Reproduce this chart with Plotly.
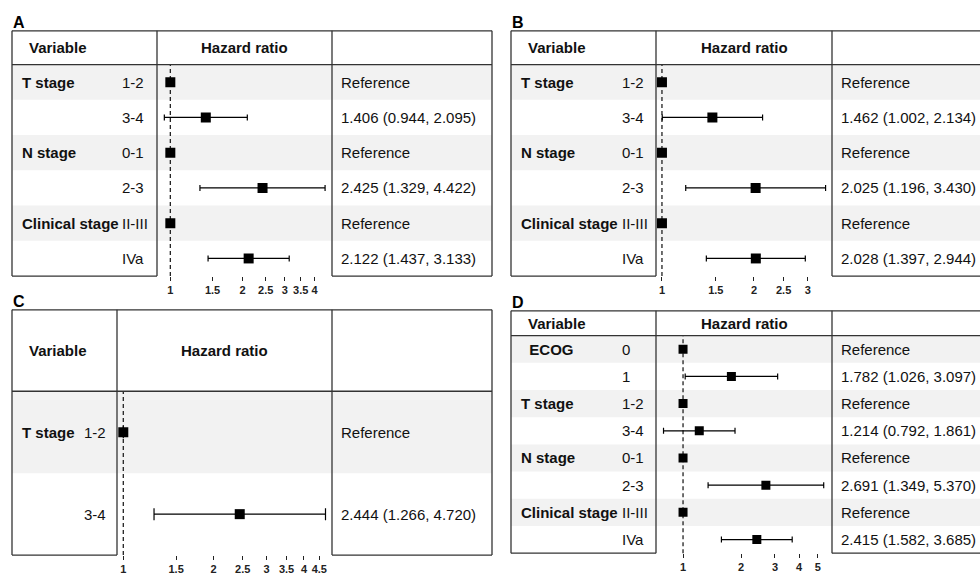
import plotly.graph_objects as go

# ---------------- data ----------------
A_groups = ["T stage", "", "N stage", "", "Clinical stage", ""]
A_levels = ["1-2", "3-4", "0-1", "2-3", "II-III", "IVa"]
A_hr = [1, 1.406, 1, 2.425, 1, 2.122]
A_lo = [None, 0.944, None, 1.329, None, 1.437]
A_hi = [None, 2.095, None, 4.422, None, 3.133]
A_ticks = [1, 1.5, 2, 2.5, 3, 3.5, 4]

B_groups = ["T stage", "", "N stage", "", "Clinical stage", ""]
B_levels = ["1-2", "3-4", "0-1", "2-3", "II-III", "IVa"]
B_hr = [1, 1.462, 1, 2.025, 1, 2.028]
B_lo = [None, 1.002, None, 1.196, None, 1.397]
B_hi = [None, 2.134, None, 3.430, None, 2.944]
B_ticks = [1, 1.5, 2, 2.5, 3]

C_groups = ["T stage", ""]
C_levels = ["1-2", "3-4"]
C_hr = [1, 2.444]
C_lo = [None, 1.266]
C_hi = [None, 4.720]
C_ticks = [1, 1.5, 2, 2.5, 3, 3.5, 4, 4.5]

D_groups = ["\u00a0\u00a0ECOG", "", "T stage", "", "N stage", "", "Clinical stage", ""]
D_levels = ["0", "1", "1-2", "3-4", "0-1", "2-3", "II-III", "IVa"]
D_hr = [1, 1.782, 1, 1.214, 1, 2.691, 1, 2.415]
D_lo = [None, 1.026, None, 0.792, None, 1.349, None, 1.582]
D_hi = [None, 3.097, None, 1.861, None, 5.370, None, 3.685]
D_ticks = [1, 2, 3, 4, 5]

DATA = {
    "A": (A_groups, A_levels, A_hr, A_lo, A_hi, A_ticks),
    "B": (B_groups, B_levels, B_hr, B_lo, B_hi, B_ticks),
    "C": (C_groups, C_levels, C_hr, C_lo, C_hi, C_ticks),
    "D": (D_groups, D_levels, D_hr, D_lo, D_hi, D_ticks),
}

# ---------------- layout geometry (pixels) ----------------
W, H = 980, 575
GEOM = {
    "A": dict(left=12, c1=157, c2=332, right=492, top=31, head=65, bottom=278,
              level_dx=108, xr=[-0.0556, 0.6745], cap=3, ms=10),
    "B": dict(left=511, c1=656, c2=832, right=1000, top=31, head=65, bottom=278,
              level_dx=109, xr=[-0.0195, 0.5563], cap=3, ms=10),
    "C": dict(left=12, c1=117, c2=332, right=492, top=312, head=394, bottom=559,
              level_dx=70, xr=[-0.0210, 0.6956], cap=6, ms=10),
    "D": dict(left=511, c1=656, c2=832, right=1000, top=313, head=338, bottom=557,
              level_dx=109, xr=[-0.1403, 0.7730], cap=3, ms=9),
}

def px(x):
    return x / W

def py(y):
    return 1 - y / H

FONT = "Liberation Sans, Arial, Helvetica, sans-serif"
TXT = "#111111"
BORDER = "#333333"
SHADE = "#f2f2f2"

fig = go.Figure()
shapes = []
annotations = []

for k, name in enumerate(["A", "B", "C", "D"]):
    groups, levels, hr, lo, hi, ticks = DATA[name]
    g = GEOM[name]
    n = len(hr)
    ax = "" if k == 0 else str(k + 1)
    xa, ya = "x" + ax, "y" + ax

    plus = [None if h is None else h - r for h, r in zip(hi, hr)]
    minus = [None if l is None else r - l for l, r in zip(lo, hr)]
    rows = list(range(n))

    fig.add_trace(go.Scatter(
        x=hr, y=rows, xaxis=xa, yaxis=ya, mode="markers",
        marker=dict(symbol="square", size=g["ms"], color="black"),
        error_x=dict(type="data", symmetric=False, array=plus, arrayminus=minus,
                     color="black", thickness=1.2, width=g["cap"]),
        showlegend=False, hoverinfo="skip",
    ))

    fig.layout["xaxis" + ax] = dict(
        type="log", domain=[px(g["c1"]), px(g["c2"])], range=g["xr"],
        anchor=ya, tickvals=ticks, ticktext=[f"{t:g}" for t in ticks],
        ticks="outside", ticklen=4, tickwidth=1, tickcolor="#222", tickangle=0,
        showgrid=False, zeroline=False, showline=False,
        tickfont=dict(family=FONT, size=11, color="#222", weight="bold"),
        fixedrange=True,
    )
    fig.layout["yaxis" + ax] = dict(
        domain=[py(g["bottom"]), py(g["head"])], range=[n - 0.5, -0.5],
        anchor=xa, showticklabels=False, showgrid=False, zeroline=False,
        showline=False, ticks="", fixedrange=True,
    )

    # row shading
    for i in range(0, n, 2):
        shapes.append(dict(type="rect", xref="paper", yref=ya,
                           x0=px(g["left"]), x1=px(g["right"]), y0=i - 0.5, y1=i + 0.5,
                           fillcolor=SHADE, line=dict(width=0), layer="below"))
    # reference dashed line
    shapes.append(dict(type="line", xref=xa, yref="paper", x0=1, x1=1,
                       y0=py(g["bottom"]), y1=py(g["head"]),
                       line=dict(color="#222", width=1.3, dash="4px,3px"), layer="below"))

    # borders
    def hline(y, x0, x1):
        shapes.append(dict(type="line", xref="paper", yref="paper",
                           x0=px(x0), x1=px(x1), y0=py(y), y1=py(y),
                           line=dict(color=BORDER, width=1.3)))

    def vline(x, y0, y1):
        shapes.append(dict(type="line", xref="paper", yref="paper",
                           x0=px(x), x1=px(x), y0=py(y0), y1=py(y1),
                           line=dict(color=BORDER, width=1.3)))

    hline(g["top"], g["left"], g["right"])
    hline(g["head"], g["left"], g["right"])
    hline(g["bottom"], g["left"], g["c1"])
    hline(g["bottom"], g["c2"], g["right"])
    for xv in (g["left"], g["c1"], g["c2"], g["right"]):
        vline(xv, g["top"], g["bottom"])

    # panel letter
    annotations.append(dict(text=f"<b>{name}</b>", xref="paper", yref="paper",
                            x=px(g["left"] - 1), y=py(g["top"] - 8), xanchor="left",
                            yanchor="middle", showarrow=False,
                            font=dict(family=FONT, size=16, color="black")))
    # header
    hy = py((g["top"] + g["head"]) / 2)
    annotations.append(dict(text="<b>Variable</b>", xref="paper", yref="paper",
                            x=px(g["left"] + 15), y=hy, xanchor="left", yanchor="middle",
                            showarrow=False, font=dict(family=FONT, size=15, color=TXT)))
    annotations.append(dict(text="<b>Hazard ratio</b>", xref="paper", yref="paper",
                            x=px((g["c1"] + g["c2"]) / 2), y=hy, xanchor="center",
                            yanchor="middle", showarrow=False,
                            font=dict(family=FONT, size=15, color=TXT)))
    # rows
    for i in range(n):
        if groups[i]:
            annotations.append(dict(text=f"<b>{groups[i]}</b>", xref="paper", yref=ya,
                                    x=px(g["left"] + 8), y=i, xanchor="left",
                                    yanchor="middle", showarrow=False,
                                    font=dict(family=FONT, size=15, color=TXT)))
        annotations.append(dict(text=levels[i], xref="paper", yref=ya,
                                x=px(g["left"] + g["level_dx"]), y=i, xanchor="left",
                                yanchor="middle", showarrow=False,
                                font=dict(family=FONT, size=15, color=TXT)))
        if lo[i] is None:
            label = "Reference"
        else:
            label = f"{hr[i]:.3f} ({lo[i]:.3f}, {hi[i]:.3f})"
        annotations.append(dict(text=label, xref="paper", yref=ya,
                                x=px(g["c2"] + 7), y=i, xanchor="left",
                                yanchor="middle", showarrow=False,
                                font=dict(family=FONT, size=15, color=TXT)))

fig.update_layout(
    width=W, height=H, margin=dict(l=0, r=0, t=0, b=0),
    paper_bgcolor="white", plot_bgcolor="rgba(0,0,0,0)",
    shapes=shapes, annotations=annotations, showlegend=False,
)

fig.write_html(
    "out.html",
    config={"displayModeBar": False},
    post_script="document.body.style.margin='0';document.body.style.padding='0';"
                "document.body.style.overflow='hidden';",
)
